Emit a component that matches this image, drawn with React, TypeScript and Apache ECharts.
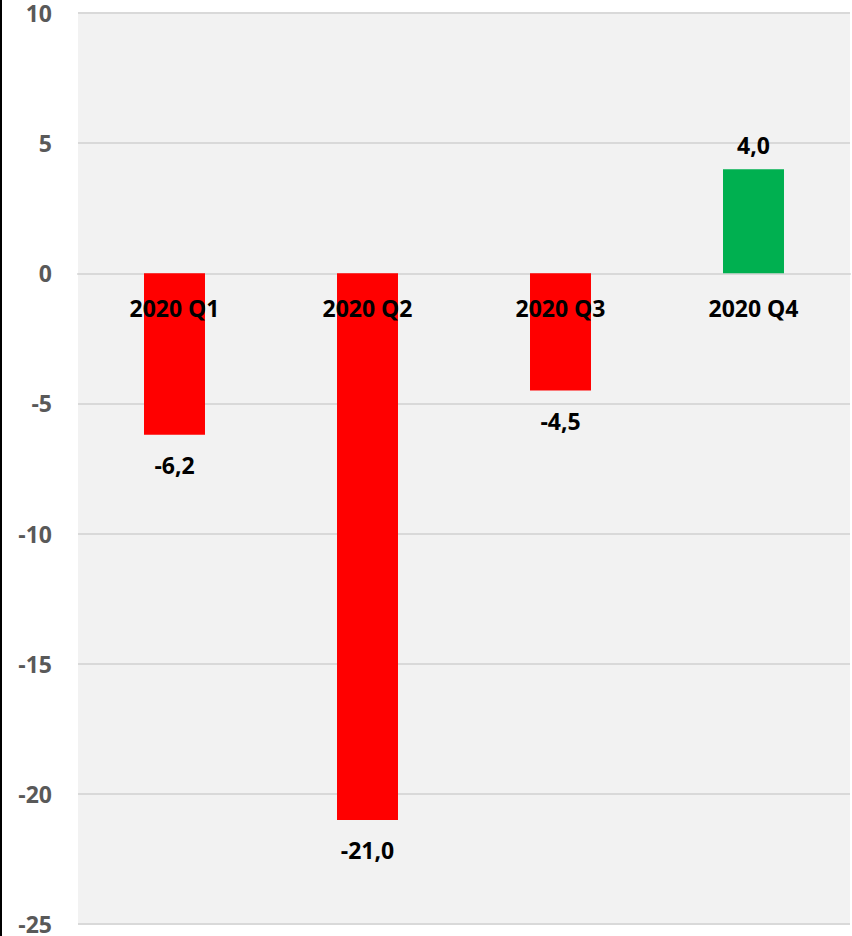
import React, { useEffect, useRef } from "react";
import * as echarts from "echarts";

const categories = ["2020 Q1", "2020 Q2", "2020 Q3", "2020 Q4"];
const values = [-6.2, -21.0, -4.5, 4.0];
const yMin = -25;
const yMax = 10;
const yInterval = 5;

const FONT = "'Open Sans', 'Liberation Sans', sans-serif";
const FS = 23;

export default function App() {
  const ref = useRef<HTMLDivElement>(null);
  useEffect(() => {
    if (!ref.current) return;
    const chart = echarts.init(ref.current, null, { renderer: "svg" });
    chart.setOption({
      animation: false,
      backgroundColor: "#ffffff",
      grid: {
        left: 78,
        right: 2,
        top: 13,
        bottom: 12,
        show: true,
        backgroundColor: "#f2f2f2",
        borderWidth: 0,
        containLabel: false,
        outerBoundsMode: "none",
      },
      graphic: [
        {
          type: "rect",
          left: 0,
          top: 0,
          shape: { width: 2, height: 936 },
          style: { fill: "#000000" },
        },
      ],
      xAxis: {
        type: "category",
        data: categories,
        axisLine: { show: true, onZero: true, lineStyle: { color: "#d9d9d9", width: 2 } },
        axisTick: { show: false },
        axisLabel: { show: false },
        splitLine: { show: false },
      },
      yAxis: {
        type: "value",
        min: yMin,
        max: yMax,
        interval: yInterval,
        axisLine: { show: false },
        axisTick: { show: false },
        axisLabel: {
          color: "#595959",
          fontWeight: "bold",
          fontSize: FS,
          fontFamily: FONT,
          margin: 26,
        },
        splitLine: { show: true, lineStyle: { color: "#d9d9d9", width: 2 } },
      },
      series: [
        {
          type: "bar",
          barWidth: "31.6%",
          data: values.map((v) => ({
            value: v,
            itemStyle: { color: v >= 0 ? "#00b050" : "#ff0000" },
            label: {
              show: true,
              position: v >= 0 ? "top" : "bottom",
              distance: v >= 0 ? 13 : 19,
            },
          })),
          label: {
            color: "#000000",
            fontWeight: "bold",
            fontSize: FS,
            fontFamily: FONT,
            formatter: (p: any) => Number(p.value).toFixed(1).replace(".", ","),
          },
        },
        {
          type: "scatter",
          symbolSize: 2,
          itemStyle: { color: "rgba(0,0,0,0)", opacity: 1 },
          silent: true,
          z: 5,
          data: categories.map((c) => [c, 0]),
          label: {
            show: true,
            position: "bottom",
            distance: 22,
            color: "#000000",
            opacity: 1,
            textBorderWidth: 0,
            fontWeight: "bold",
            fontSize: FS,
            fontFamily: FONT,
            formatter: (p: any) => p.value[0],
          },
          emphasis: { disabled: true },
        },
      ],
    });
    return () => chart.dispose();
  }, []);
  return (
    <div
      ref={ref}
      style={{ position: "fixed", left: 0, top: 0, width: 852, height: 936 }}
    />
  );
}
